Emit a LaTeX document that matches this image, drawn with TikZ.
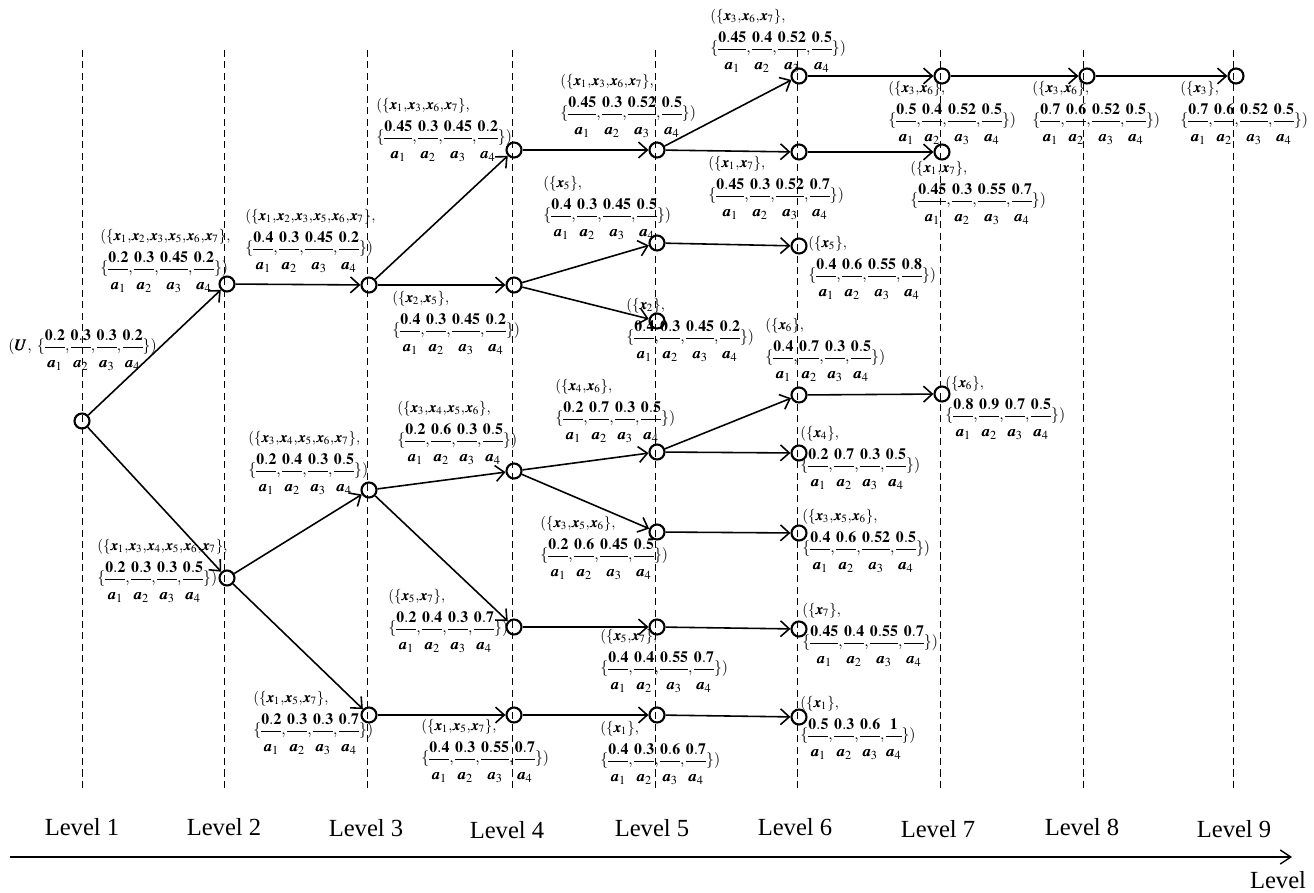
\documentclass[tikz,border=0pt]{standalone}
\usepackage{amsmath}
\usepackage{mathptmx}
\usepackage{bm}
\usepackage{fontspec}
\setmainfont{Liberation Serif}
\usetikzlibrary{arrows.meta}
\setlength{\nulldelimiterspace}{0pt}
\newcommand{\cm}{{,}\mskip1.5mu}
\newcommand{\cx}{{,}\mskip0.5mu}
\newcommand{\fr}[2]{\dfrac{\mathbf{#1}\rule[-1pt]{0pt}{0pt}}{\rule{0pt}{10.5pt}\bm{a}_{#2}}}
\newcommand{\fl}[4]{\{\fr{#1}{1}\cm\fr{#2}{2}\cm\fr{#3}{3}\cm\fr{#4}{4}\})}
\newcommand{\xx}[1]{\bm{x}_{#1}}
\newcommand{\st}[1]{{\fontsize{8.5}{10}\selectfont$(\{#1\}\cm$}}
\tikzset{
  circ/.style={circle, draw, line width=1.2pt, minimum size=0.3cm, inner sep=0pt},
  edge/.style={line width=0.9pt, -{Straight Barb[length=5pt,width=9pt]}},
  grid/.style={dashed, line width=0.5pt, dash pattern=on 4pt off 2.5pt},
  lab/.style={anchor=north west, inner sep=0pt, align=left, font=\fontsize{9}{10.5}\selectfont},
  lev/.style={font=\fontsize{14}{16}\selectfont, inner sep=0pt}
}
\begin{document}
\begin{tikzpicture}[x=0.02cm, y=-0.02cm]
\useasboundingbox (0,0) rectangle (1314,892);
% vertical dashed lines
\foreach \xv in {82,224,367,512,655,797,940,1083,1233}
  \draw[grid] (\xv,50) -- (\xv,790);
% nodes
\node[circ] (A) at (82,421) {};
\node[circ] (B) at (227,284) {};
\node[circ] (C) at (227,578) {};
\node[circ] (D) at (369,285) {};
\node[circ] (E) at (369,490) {};
\node[circ] (F) at (369,715) {};
\node[circ] (G) at (514,150) {};
\node[circ] (H) at (514,285) {};
\node[circ] (I) at (514,471) {};
\node[circ] (J) at (514,627) {};
\node[circ] (K) at (514,715) {};
\node[circ] (Va) at (657,150) {};
\node[circ] (Vb) at (657,243) {};
\node[circ] (Vc) at (657,321) {};
\node[circ] (Vd) at (657,452) {};
\node[circ] (Ve) at (657,532) {};
\node[circ] (Vf) at (657,627) {};
\node[circ] (Vg) at (657,715) {};
\node[circ] (M1) at (799,76) {};
\node[circ] (M2) at (799,152) {};
\node[circ] (M3) at (799,246) {};
\node[circ] (M4) at (799,395) {};
\node[circ] (M5) at (799,453) {};
\node[circ] (M6) at (799,533) {};
\node[circ] (M7) at (799,629) {};
\node[circ] (M8) at (799,717) {};
\node[circ] (N1) at (942,76) {};
\node[circ] (N2) at (942,152) {};
\node[circ] (N3) at (942,394) {};
\node[circ] (O1) at (1087,76) {};
\node[circ] (P1) at (1236,76) {};
% edges
\foreach \s/\t in {A/B,A/C,B/D,C/E,C/F,D/G,D/H,E/I,E/J,F/K,G/Va,H/Vb,H/Vc,I/Vd,I/Ve,J/Vf,K/Vg,Va/M1,Va/M2,Vb/M3,Vd/M4,Vd/M5,Ve/M6,Vf/M7,Vg/M8,M1/N1,M2/N2,M4/N3,N1/O1,O1/P1}
  \draw[edge] (\s) -- (\t);
% labels
\node[anchor=west, inner sep=0pt, font=\fontsize{9}{10.5}\selectfont] (lA) at (8,350) {$(\bm{U}\cm\ \fl{0.2}{0.3}{0.3}{0.2}$};
\node[lab] (lB) at (100,229) {\st{\xx1\cx\xx2\cx\xx3\cx\xx5\cx\xx6\cx\xx7}\\[3pt]$\fl{0.2}{0.3}{0.45}{0.2}$};
\node[lab] (lC) at (97,539) {\st{\xx1\cx\xx3\cx\xx4\cx\xx5\cx\xx6\cx\xx7}\\[3pt]$\fl{0.2}{0.3}{0.3}{0.5}$};
\node[lab] (lD) at (245,209) {\st{\xx1\cx\xx2\cx\xx3\cx\xx5\cx\xx6\cx\xx7}\\[3pt]$\fl{0.4}{0.3}{0.45}{0.2}$};
\node[lab] (lE) at (248,431) {\st{\xx3\cx\xx4\cx\xx5\cx\xx6\cx\xx7}\\[3pt]$\fl{0.2}{0.4}{0.3}{0.5}$};
\node[lab] (lF) at (253,691) {\st{\xx1\cx\xx5\cx\xx7}\\[3pt]$\fl{0.2}{0.3}{0.3}{0.7}$};
\node[lab] (lG) at (376,98) {\st{\xx1\cx\xx3\cx\xx6\cx\xx7}\\[3pt]$\fl{0.45}{0.3}{0.45}{0.2}$};
\node[lab] (lH) at (392,291) {\st{\xx2\cx\xx5}\\[3pt]$\fl{0.4}{0.3}{0.45}{0.2}$};
\node[lab] (lI) at (397,401) {\st{\xx3\cx\xx4\cx\xx5\cx\xx6}\\[3pt]$\fl{0.2}{0.6}{0.3}{0.5}$};
\node[lab] (lJ) at (388,589) {\st{\xx5\cx\xx7}\\[3pt]$\fl{0.2}{0.4}{0.3}{0.7}$};
\node[lab] (lK) at (421,719) {\st{\xx1\cx\xx5\cx\xx7}\\[3pt]$\fl{0.4}{0.3}{0.55}{0.7}$};
\node[lab] (lVa) at (560,74) {\st{\xx1\cx\xx3\cx\xx6\cx\xx7}\\[3pt]$\fl{0.45}{0.3}{0.52}{0.5}$};
\node[lab] (lVb) at (543,176) {\st{\xx5}\\[3pt]$\fl{0.4}{0.3}{0.45}{0.5}$};
\node[lab] (lVc) at (626,298) {\st{\xx2}\\[3pt]$\fl{0.4}{0.3}{0.45}{0.2}$};
\node[lab] (lVd) at (555,379) {\st{\xx4\cx\xx6}\\[3pt]$\fl{0.2}{0.7}{0.3}{0.5}$};
\node[lab] (lVe) at (540,516) {\st{\xx3\cx\xx5\cx\xx6}\\[3pt]$\fl{0.2}{0.6}{0.45}{0.5}$};
\node[lab] (lVf) at (600,629) {\st{\xx5\cx\xx7}\\[3pt]$\fl{0.4}{0.4}{0.55}{0.7}$};
\node[lab] (lVg) at (600,721) {\st{\xx1}\\[3pt]$\fl{0.4}{0.3}{0.6}{0.7}$};
\node[lab] (lM1) at (710,9) {\st{\xx3\cx\xx6\cx\xx7}\\[3pt]$\fl{0.45}{0.4}{0.52}{0.5}$};
\node[lab] (lM2) at (708,156) {\st{\xx1\cx\xx7}\\[3pt]$\fl{0.45}{0.3}{0.52}{0.7}$};
\node[lab] (lN1) at (888,81) {\st{\xx3\cx\xx6}\\[3pt]$\fl{0.5}{0.4}{0.52}{0.5}$};
\node[lab] (lN2) at (910,161) {\st{\xx1\cx\xx7}\\[3pt]$\fl{0.45}{0.3}{0.55}{0.7}$};
\node[lab] (lM3) at (808,236) {\st{\xx5}\\[3pt]$\fl{0.4}{0.6}{0.55}{0.8}$};
\node[lab] (lM4) at (765,318) {\st{\xx6}\\[3pt]$\fl{0.4}{0.7}{0.3}{0.5}$};
\node[lab] (lN3) at (945,376) {\st{\xx6}\\[3pt]$\fl{0.8}{0.9}{0.7}{0.5}$};
\node[lab] (lM5) at (800,426) {\st{\xx4}\\[3pt]$\fl{0.2}{0.7}{0.3}{0.5}$};
\node[lab] (lM6) at (802,509) {\st{\xx3\cx\xx5\cx\xx6}\\[3pt]$\fl{0.4}{0.6}{0.52}{0.5}$};
\node[lab] (lM7) at (802,603) {\st{\xx7}\\[3pt]$\fl{0.45}{0.4}{0.55}{0.7}$};
\node[lab] (lM8) at (800,696) {\st{\xx1}\\[3pt]$\fl{0.5}{0.3}{0.6}{1}$};
\node[lab] (lO1) at (1032,81) {\st{\xx3\cx\xx6}\\[3pt]$\fl{0.7}{0.6}{0.52}{0.5}$};
\node[lab] (lP1) at (1180,81) {\st{\xx3}\\[3pt]$\fl{0.7}{0.6}{0.52}{0.5}$};
% level labels
\node[lev] (L1) at (82,827) {Level 1};
\node[lev] (L2) at (224,827) {Level 2};
\node[lev] (L3) at (366,828) {Level 3};
\node[lev] (L4) at (507,830) {Level 4};
\node[lev] (L5) at (652,828) {Level 5};
\node[lev] (L6) at (795,827) {Level 6};
\node[lev] (L7) at (938,829) {Level 7};
\node[lev] (L8) at (1082,827) {Level 8};
\node[lev] (L9) at (1234,829) {Level 9};
% axis
\coordinate (ax0) at (10,857);
\coordinate (ax1) at (1292,857);
\draw[line width=0.8pt, -{Straight Barb[length=6pt,width=8pt]}] (ax0) -- (ax1);
\node[lev] (Lax) at (1278,880) {Level};
\end{tikzpicture}
\end{document}
